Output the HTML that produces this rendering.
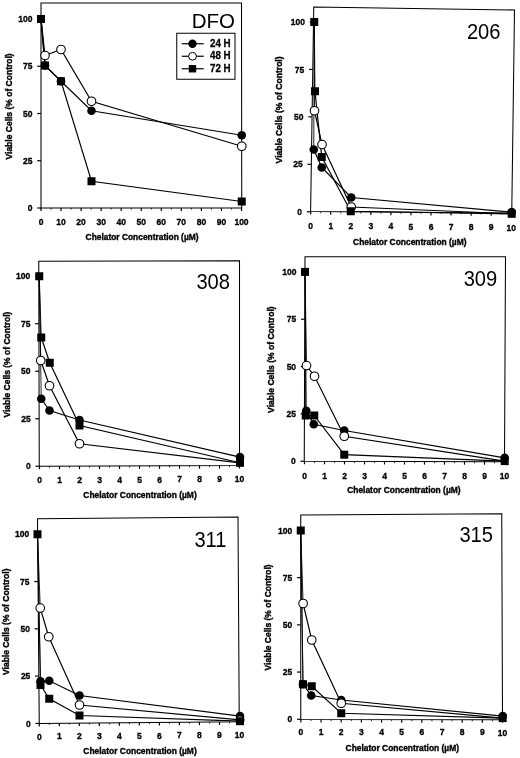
<!DOCTYPE html>
<html><head><meta charset="utf-8"><title>Chelator viability charts</title>
<style>
html,body{margin:0;padding:0;background:#fff;}
body{width:520px;height:758px;overflow:hidden;font-family:"Liberation Sans",sans-serif;}
svg{display:block;filter:blur(0.3px);}
text{font-family:"Liberation Sans",sans-serif;fill:#000;}
.tk{font-size:9.9px;font-weight:bold;stroke:#000;stroke-width:0.35px;}
.al{font-size:9.8px;font-weight:bold;stroke:#000;stroke-width:0.4px;}
.lg{font-size:10.2px;font-weight:bold;stroke:#111;stroke-width:0.3px;}
.tt{font-weight:normal;}
</style></head><body>
<svg width="520" height="758" viewBox="0 0 520 758">
<rect width="520" height="758" fill="#fff"/>
<polygon points="41,3 241.5,3 241.75,208 41,208" fill="none" stroke="#000" stroke-width="1.05"/>
<line x1="37.20" y1="208.00" x2="41.00" y2="208.00" stroke="#000" stroke-width="1.18"/>
<text transform="translate(32.50,211.10) scale(0.86,1)" text-anchor="end" class="tk">0</text>
<line x1="37.20" y1="160.75" x2="41.00" y2="160.75" stroke="#000" stroke-width="1.18"/>
<text transform="translate(32.50,163.85) scale(0.86,1)" text-anchor="end" class="tk">25</text>
<line x1="37.20" y1="113.50" x2="41.00" y2="113.50" stroke="#000" stroke-width="1.18"/>
<text transform="translate(32.50,116.60) scale(0.86,1)" text-anchor="end" class="tk">50</text>
<line x1="37.20" y1="66.25" x2="41.00" y2="66.25" stroke="#000" stroke-width="1.18"/>
<text transform="translate(32.50,69.35) scale(0.86,1)" text-anchor="end" class="tk">75</text>
<line x1="37.20" y1="19.00" x2="41.00" y2="19.00" stroke="#000" stroke-width="1.18"/>
<text transform="translate(32.50,22.10) scale(0.86,1)" text-anchor="end" class="tk">100</text>
<line x1="41.00" y1="208.00" x2="41.00" y2="211.00" stroke="#000" stroke-width="1.18"/>
<text transform="translate(41.00,225.10) scale(0.86,1)" text-anchor="middle" class="tk">0</text>
<line x1="51.02" y1="208.00" x2="51.02" y2="209.60" stroke="#000" stroke-width="0.8"/>
<line x1="61.05" y1="208.00" x2="61.05" y2="211.00" stroke="#000" stroke-width="1.18"/>
<text transform="translate(61.05,225.07) scale(0.86,1)" text-anchor="middle" class="tk">10</text>
<line x1="71.08" y1="208.00" x2="71.08" y2="209.60" stroke="#000" stroke-width="0.8"/>
<line x1="81.10" y1="208.00" x2="81.10" y2="211.00" stroke="#000" stroke-width="1.18"/>
<text transform="translate(81.10,225.04) scale(0.86,1)" text-anchor="middle" class="tk">20</text>
<line x1="91.12" y1="208.00" x2="91.12" y2="209.60" stroke="#000" stroke-width="0.8"/>
<line x1="101.15" y1="208.00" x2="101.15" y2="211.00" stroke="#000" stroke-width="1.18"/>
<text transform="translate(101.15,225.01) scale(0.86,1)" text-anchor="middle" class="tk">30</text>
<line x1="111.17" y1="208.00" x2="111.17" y2="209.60" stroke="#000" stroke-width="0.8"/>
<line x1="121.20" y1="208.00" x2="121.20" y2="211.00" stroke="#000" stroke-width="1.18"/>
<text transform="translate(121.20,224.98) scale(0.86,1)" text-anchor="middle" class="tk">40</text>
<line x1="131.23" y1="208.00" x2="131.23" y2="209.60" stroke="#000" stroke-width="0.8"/>
<line x1="141.25" y1="208.00" x2="141.25" y2="211.00" stroke="#000" stroke-width="1.18"/>
<text transform="translate(141.25,224.95) scale(0.86,1)" text-anchor="middle" class="tk">50</text>
<line x1="151.28" y1="208.00" x2="151.28" y2="209.60" stroke="#000" stroke-width="0.8"/>
<line x1="161.30" y1="208.00" x2="161.30" y2="211.00" stroke="#000" stroke-width="1.18"/>
<text transform="translate(161.30,224.92) scale(0.86,1)" text-anchor="middle" class="tk">60</text>
<line x1="171.33" y1="208.00" x2="171.33" y2="209.60" stroke="#000" stroke-width="0.8"/>
<line x1="181.35" y1="208.00" x2="181.35" y2="211.00" stroke="#000" stroke-width="1.18"/>
<text transform="translate(181.35,224.89) scale(0.86,1)" text-anchor="middle" class="tk">70</text>
<line x1="191.38" y1="208.00" x2="191.38" y2="209.60" stroke="#000" stroke-width="0.8"/>
<line x1="201.40" y1="208.00" x2="201.40" y2="211.00" stroke="#000" stroke-width="1.18"/>
<text transform="translate(201.40,224.86) scale(0.86,1)" text-anchor="middle" class="tk">80</text>
<line x1="211.42" y1="208.00" x2="211.42" y2="209.60" stroke="#000" stroke-width="0.8"/>
<line x1="221.45" y1="208.00" x2="221.45" y2="211.00" stroke="#000" stroke-width="1.18"/>
<text transform="translate(221.45,224.83) scale(0.86,1)" text-anchor="middle" class="tk">90</text>
<line x1="231.47" y1="208.00" x2="231.47" y2="209.60" stroke="#000" stroke-width="0.8"/>
<line x1="241.50" y1="208.00" x2="241.50" y2="211.00" stroke="#000" stroke-width="1.18"/>
<text transform="translate(241.50,224.80) scale(0.86,1)" text-anchor="middle" class="tk">100</text>
<polyline points="41,19 45,65.5 61,81.25 91.5,110.75 241.75,135.25" fill="none" stroke="#000" stroke-width="1.18"/>
<polyline points="41,19 45,55.5 61,49.5 91.5,101.25 241.75,146.25" fill="none" stroke="#000" stroke-width="1.18"/>
<polyline points="41,19 45,65.5 61,81.25 91.5,181.25 241.75,201.5" fill="none" stroke="#000" stroke-width="1.18"/>
<circle cx="45" cy="65.5" r="4.3" fill="#000"/>
<circle cx="61" cy="81.25" r="4.3" fill="#000"/>
<circle cx="91.5" cy="110.75" r="4.3" fill="#000"/>
<circle cx="241.75" cy="135.25" r="4.3" fill="#000"/>
<circle cx="45" cy="55.5" r="4.3" fill="#fff" stroke="#000" stroke-width="1.1"/>
<circle cx="61" cy="49.5" r="4.3" fill="#fff" stroke="#000" stroke-width="1.1"/>
<circle cx="91.5" cy="101.25" r="4.3" fill="#fff" stroke="#000" stroke-width="1.1"/>
<circle cx="241.75" cy="146.25" r="4.3" fill="#fff" stroke="#000" stroke-width="1.1"/>
<rect x="37.0" y="15.0" width="8.0" height="8.0" fill="#000"/>
<rect x="41.0" y="61.5" width="8.0" height="8.0" fill="#000"/>
<rect x="57.0" y="77.25" width="8.0" height="8.0" fill="#000"/>
<rect x="87.5" y="177.25" width="8.0" height="8.0" fill="#000"/>
<rect x="237.75" y="197.5" width="8.0" height="8.0" fill="#000"/>
<text x="191.7" y="27.7" class="tt" font-size="19.5" textLength="43.3" lengthAdjust="spacingAndGlyphs">DFO</text>
<text x="85.60" y="239.8" class="al" textLength="112.9" lengthAdjust="spacingAndGlyphs">Chelator Concentration (µM)</text>
<text transform="translate(11.60,159.50) rotate(-90)" class="al" textLength="106.2" lengthAdjust="spacingAndGlyphs">Viable Cells (% of Control)</text>
<polygon points="313.75,7 514.5,10 511.75,213 310.6,211.6" fill="none" stroke="#000" stroke-width="1.05"/>
<line x1="306.80" y1="211.75" x2="310.60" y2="211.75" stroke="#000" stroke-width="1.18"/>
<text transform="translate(302.10,214.85) scale(0.86,1)" text-anchor="end" class="tk">0</text>
<line x1="307.53" y1="164.31" x2="311.33" y2="164.31" stroke="#000" stroke-width="1.18"/>
<text transform="translate(302.83,167.41) scale(0.86,1)" text-anchor="end" class="tk">25</text>
<line x1="308.26" y1="116.88" x2="312.06" y2="116.88" stroke="#000" stroke-width="1.18"/>
<text transform="translate(303.56,119.97) scale(0.86,1)" text-anchor="end" class="tk">50</text>
<line x1="308.99" y1="69.44" x2="312.79" y2="69.44" stroke="#000" stroke-width="1.18"/>
<text transform="translate(304.29,72.54) scale(0.86,1)" text-anchor="end" class="tk">75</text>
<line x1="309.72" y1="22.00" x2="313.52" y2="22.00" stroke="#000" stroke-width="1.18"/>
<text transform="translate(305.02,25.10) scale(0.86,1)" text-anchor="end" class="tk">100</text>
<line x1="310.70" y1="211.60" x2="310.70" y2="214.60" stroke="#000" stroke-width="1.18"/>
<text transform="translate(310.70,228.60) scale(0.86,1)" text-anchor="middle" class="tk">0</text>
<line x1="320.73" y1="211.67" x2="320.73" y2="213.27" stroke="#000" stroke-width="0.8"/>
<line x1="330.75" y1="211.74" x2="330.75" y2="214.74" stroke="#000" stroke-width="1.18"/>
<text transform="translate(330.75,228.79) scale(0.86,1)" text-anchor="middle" class="tk">1</text>
<line x1="340.78" y1="211.81" x2="340.78" y2="213.41" stroke="#000" stroke-width="0.8"/>
<line x1="350.81" y1="211.88" x2="350.81" y2="214.88" stroke="#000" stroke-width="1.18"/>
<text transform="translate(350.81,228.98) scale(0.86,1)" text-anchor="middle" class="tk">2</text>
<line x1="360.84" y1="211.95" x2="360.84" y2="213.55" stroke="#000" stroke-width="0.8"/>
<line x1="370.87" y1="212.02" x2="370.87" y2="215.02" stroke="#000" stroke-width="1.18"/>
<text transform="translate(370.87,229.17) scale(0.86,1)" text-anchor="middle" class="tk">3</text>
<line x1="380.89" y1="212.09" x2="380.89" y2="213.69" stroke="#000" stroke-width="0.8"/>
<line x1="390.92" y1="212.16" x2="390.92" y2="215.16" stroke="#000" stroke-width="1.18"/>
<text transform="translate(390.92,229.36) scale(0.86,1)" text-anchor="middle" class="tk">4</text>
<line x1="400.95" y1="212.23" x2="400.95" y2="213.83" stroke="#000" stroke-width="0.8"/>
<line x1="410.98" y1="212.30" x2="410.98" y2="215.30" stroke="#000" stroke-width="1.18"/>
<text transform="translate(410.98,229.55) scale(0.86,1)" text-anchor="middle" class="tk">5</text>
<line x1="421.00" y1="212.37" x2="421.00" y2="213.97" stroke="#000" stroke-width="0.8"/>
<line x1="431.03" y1="212.44" x2="431.03" y2="215.44" stroke="#000" stroke-width="1.18"/>
<text transform="translate(431.03,229.74) scale(0.86,1)" text-anchor="middle" class="tk">6</text>
<line x1="441.06" y1="212.51" x2="441.06" y2="214.11" stroke="#000" stroke-width="0.8"/>
<line x1="451.08" y1="212.58" x2="451.08" y2="215.58" stroke="#000" stroke-width="1.18"/>
<text transform="translate(451.08,229.93) scale(0.86,1)" text-anchor="middle" class="tk">7</text>
<line x1="461.11" y1="212.65" x2="461.11" y2="214.25" stroke="#000" stroke-width="0.8"/>
<line x1="471.14" y1="212.72" x2="471.14" y2="215.72" stroke="#000" stroke-width="1.18"/>
<text transform="translate(471.14,230.12) scale(0.86,1)" text-anchor="middle" class="tk">8</text>
<line x1="481.17" y1="212.79" x2="481.17" y2="214.39" stroke="#000" stroke-width="0.8"/>
<line x1="491.19" y1="212.86" x2="491.19" y2="215.86" stroke="#000" stroke-width="1.18"/>
<text transform="translate(491.19,230.31) scale(0.86,1)" text-anchor="middle" class="tk">9</text>
<line x1="501.22" y1="212.93" x2="501.22" y2="214.53" stroke="#000" stroke-width="0.8"/>
<line x1="511.25" y1="213.00" x2="511.25" y2="216.00" stroke="#000" stroke-width="1.18"/>
<text transform="translate(511.25,230.50) scale(0.86,1)" text-anchor="middle" class="tk">10</text>
<line x1="314.25" y1="22" x2="313.75" y2="149.5" stroke="#000" stroke-width="0.85"/>
<polyline points="313.75,149.5 321.75,167.5 351.25,197.5 511.7,212.1" fill="none" stroke="#000" stroke-width="1.18"/>
<line x1="314.25" y1="22" x2="314.5" y2="110.75" stroke="#000" stroke-width="0.85"/>
<polyline points="314.5,110.75 322,144.5 351.25,207 511.7,213.8" fill="none" stroke="#000" stroke-width="1.18"/>
<line x1="314.25" y1="22" x2="315" y2="91.25" stroke="#000" stroke-width="0.85"/>
<polyline points="315,91.25 321.75,157 350.75,211.25 511.7,213.8" fill="none" stroke="#000" stroke-width="1.18"/>
<circle cx="313.75" cy="149.5" r="4.3" fill="#000"/>
<circle cx="321.75" cy="167.5" r="4.3" fill="#000"/>
<circle cx="351.25" cy="197.5" r="4.3" fill="#000"/>
<circle cx="511.7" cy="212.1" r="4.3" fill="#000"/>
<circle cx="314.5" cy="110.75" r="4.3" fill="#fff" stroke="#000" stroke-width="1.1"/>
<circle cx="322" cy="144.5" r="4.3" fill="#fff" stroke="#000" stroke-width="1.1"/>
<circle cx="351.25" cy="207" r="4.3" fill="#fff" stroke="#000" stroke-width="1.1"/>
<rect x="310.25" y="18.0" width="8.0" height="8.0" fill="#000"/>
<rect x="311.0" y="87.25" width="8.0" height="8.0" fill="#000"/>
<rect x="317.75" y="153.0" width="8.0" height="8.0" fill="#000"/>
<rect x="346.75" y="207.25" width="8.0" height="8.0" fill="#000"/>
<rect x="507.7" y="209.8" width="8.0" height="8.0" fill="#000"/>
<text transform="translate(466.9,38.75) scale(0.93,1)" class="tt" font-size="21.7">206</text>
<text x="353.10" y="244.6" class="al" textLength="113.4" lengthAdjust="spacingAndGlyphs">Chelator Concentration (µM)</text>
<text transform="translate(281.60,163.40) rotate(-90)" class="al" textLength="107.0" lengthAdjust="spacingAndGlyphs">Viable Cells (% of Control)</text>
<polygon points="38.75,261.25 239.5,260.75 239.5,465.5 39.25,466.25" fill="none" stroke="#000" stroke-width="1.05"/>
<line x1="35.45" y1="466.25" x2="39.25" y2="466.25" stroke="#000" stroke-width="1.18"/>
<text transform="translate(30.75,469.35) scale(0.86,1)" text-anchor="end" class="tk">0</text>
<line x1="35.33" y1="418.75" x2="39.13" y2="418.75" stroke="#000" stroke-width="1.18"/>
<text transform="translate(30.63,421.85) scale(0.86,1)" text-anchor="end" class="tk">25</text>
<line x1="35.22" y1="371.25" x2="39.02" y2="371.25" stroke="#000" stroke-width="1.18"/>
<text transform="translate(30.52,374.35) scale(0.86,1)" text-anchor="end" class="tk">50</text>
<line x1="35.10" y1="323.75" x2="38.90" y2="323.75" stroke="#000" stroke-width="1.18"/>
<text transform="translate(30.40,326.85) scale(0.86,1)" text-anchor="end" class="tk">75</text>
<line x1="34.99" y1="276.25" x2="38.79" y2="276.25" stroke="#000" stroke-width="1.18"/>
<text transform="translate(30.29,279.35) scale(0.86,1)" text-anchor="end" class="tk">100</text>
<line x1="39.50" y1="466.25" x2="39.50" y2="469.25" stroke="#000" stroke-width="1.18"/>
<text transform="translate(39.50,483.00) scale(0.86,1)" text-anchor="middle" class="tk">0</text>
<line x1="49.50" y1="466.21" x2="49.50" y2="467.81" stroke="#000" stroke-width="0.8"/>
<line x1="59.50" y1="466.17" x2="59.50" y2="469.17" stroke="#000" stroke-width="1.18"/>
<text transform="translate(59.50,482.92) scale(0.86,1)" text-anchor="middle" class="tk">1</text>
<line x1="69.50" y1="466.14" x2="69.50" y2="467.74" stroke="#000" stroke-width="0.8"/>
<line x1="79.50" y1="466.10" x2="79.50" y2="469.10" stroke="#000" stroke-width="1.18"/>
<text transform="translate(79.50,482.84) scale(0.86,1)" text-anchor="middle" class="tk">2</text>
<line x1="89.50" y1="466.06" x2="89.50" y2="467.66" stroke="#000" stroke-width="0.8"/>
<line x1="99.50" y1="466.02" x2="99.50" y2="469.02" stroke="#000" stroke-width="1.18"/>
<text transform="translate(99.50,482.76) scale(0.86,1)" text-anchor="middle" class="tk">3</text>
<line x1="109.50" y1="465.99" x2="109.50" y2="467.59" stroke="#000" stroke-width="0.8"/>
<line x1="119.50" y1="465.95" x2="119.50" y2="468.95" stroke="#000" stroke-width="1.18"/>
<text transform="translate(119.50,482.68) scale(0.86,1)" text-anchor="middle" class="tk">4</text>
<line x1="129.50" y1="465.91" x2="129.50" y2="467.51" stroke="#000" stroke-width="0.8"/>
<line x1="139.50" y1="465.87" x2="139.50" y2="468.87" stroke="#000" stroke-width="1.18"/>
<text transform="translate(139.50,482.60) scale(0.86,1)" text-anchor="middle" class="tk">5</text>
<line x1="149.50" y1="465.84" x2="149.50" y2="467.44" stroke="#000" stroke-width="0.8"/>
<line x1="159.50" y1="465.80" x2="159.50" y2="468.80" stroke="#000" stroke-width="1.18"/>
<text transform="translate(159.50,482.52) scale(0.86,1)" text-anchor="middle" class="tk">6</text>
<line x1="169.50" y1="465.76" x2="169.50" y2="467.36" stroke="#000" stroke-width="0.8"/>
<line x1="179.50" y1="465.72" x2="179.50" y2="468.72" stroke="#000" stroke-width="1.18"/>
<text transform="translate(179.50,482.44) scale(0.86,1)" text-anchor="middle" class="tk">7</text>
<line x1="189.50" y1="465.69" x2="189.50" y2="467.29" stroke="#000" stroke-width="0.8"/>
<line x1="199.50" y1="465.65" x2="199.50" y2="468.65" stroke="#000" stroke-width="1.18"/>
<text transform="translate(199.50,482.36) scale(0.86,1)" text-anchor="middle" class="tk">8</text>
<line x1="209.50" y1="465.61" x2="209.50" y2="467.21" stroke="#000" stroke-width="0.8"/>
<line x1="219.50" y1="465.57" x2="219.50" y2="468.57" stroke="#000" stroke-width="1.18"/>
<text transform="translate(219.50,482.28) scale(0.86,1)" text-anchor="middle" class="tk">9</text>
<line x1="229.50" y1="465.54" x2="229.50" y2="467.14" stroke="#000" stroke-width="0.8"/>
<line x1="239.50" y1="465.50" x2="239.50" y2="468.50" stroke="#000" stroke-width="1.18"/>
<text transform="translate(239.50,482.20) scale(0.86,1)" text-anchor="middle" class="tk">10</text>
<line x1="39.25" y1="276.25" x2="41.25" y2="398.75" stroke="#000" stroke-width="0.85"/>
<polyline points="41.25,398.75 49.5,410.5 79.5,420 240,457.1" fill="none" stroke="#000" stroke-width="1.18"/>
<line x1="39.25" y1="276.25" x2="40.75" y2="360.5" stroke="#000" stroke-width="0.85"/>
<polyline points="40.75,360.5 49.5,385.75 79.5,443.75 240,462.8" fill="none" stroke="#000" stroke-width="1.18"/>
<line x1="39.25" y1="276.25" x2="41.25" y2="337.5" stroke="#000" stroke-width="0.85"/>
<polyline points="41.25,337.5 49.75,362.75 79.5,425.5 240,462.8" fill="none" stroke="#000" stroke-width="1.18"/>
<circle cx="41.25" cy="398.75" r="4.3" fill="#000"/>
<circle cx="49.5" cy="410.5" r="4.3" fill="#000"/>
<circle cx="79.5" cy="420" r="4.3" fill="#000"/>
<circle cx="240" cy="457.1" r="4.3" fill="#000"/>
<circle cx="40.75" cy="360.5" r="4.3" fill="#fff" stroke="#000" stroke-width="1.1"/>
<circle cx="49.5" cy="385.75" r="4.3" fill="#fff" stroke="#000" stroke-width="1.1"/>
<circle cx="79.5" cy="443.75" r="4.3" fill="#fff" stroke="#000" stroke-width="1.1"/>
<rect x="35.25" y="272.25" width="8.0" height="8.0" fill="#000"/>
<rect x="37.25" y="333.5" width="8.0" height="8.0" fill="#000"/>
<rect x="45.75" y="358.75" width="8.0" height="8.0" fill="#000"/>
<rect x="75.5" y="421.5" width="8.0" height="8.0" fill="#000"/>
<rect x="236.0" y="458.8" width="8.0" height="8.0" fill="#000"/>
<text transform="translate(196.4,289.25) scale(0.93,1)" class="tt" font-size="21.7">308</text>
<text x="83.30" y="497.5" class="al" textLength="113.4" lengthAdjust="spacingAndGlyphs">Chelator Concentration (µM)</text>
<text transform="translate(9.60,417.60) rotate(-90)" class="al" textLength="106.0" lengthAdjust="spacingAndGlyphs">Viable Cells (% of Control)</text>
<polygon points="305,256.75 505.5,256.75 504.5,461.75 304.25,461.25" fill="none" stroke="#000" stroke-width="1.05"/>
<line x1="300.45" y1="461.25" x2="304.25" y2="461.25" stroke="#000" stroke-width="1.18"/>
<text transform="translate(295.75,464.35) scale(0.86,1)" text-anchor="end" class="tk">0</text>
<line x1="300.62" y1="413.91" x2="304.42" y2="413.91" stroke="#000" stroke-width="1.18"/>
<text transform="translate(295.92,417.01) scale(0.86,1)" text-anchor="end" class="tk">25</text>
<line x1="300.80" y1="366.57" x2="304.60" y2="366.57" stroke="#000" stroke-width="1.18"/>
<text transform="translate(296.10,369.68) scale(0.86,1)" text-anchor="end" class="tk">50</text>
<line x1="300.97" y1="319.24" x2="304.77" y2="319.24" stroke="#000" stroke-width="1.18"/>
<text transform="translate(296.27,322.34) scale(0.86,1)" text-anchor="end" class="tk">75</text>
<line x1="301.14" y1="271.90" x2="304.94" y2="271.90" stroke="#000" stroke-width="1.18"/>
<text transform="translate(296.44,275.00) scale(0.86,1)" text-anchor="end" class="tk">100</text>
<line x1="304.50" y1="461.25" x2="304.50" y2="464.25" stroke="#000" stroke-width="1.18"/>
<text transform="translate(304.50,478.50) scale(0.86,1)" text-anchor="middle" class="tk">0</text>
<line x1="314.50" y1="461.28" x2="314.50" y2="462.88" stroke="#000" stroke-width="0.8"/>
<line x1="324.50" y1="461.30" x2="324.50" y2="464.30" stroke="#000" stroke-width="1.18"/>
<text transform="translate(324.50,478.52) scale(0.86,1)" text-anchor="middle" class="tk">1</text>
<line x1="334.50" y1="461.33" x2="334.50" y2="462.93" stroke="#000" stroke-width="0.8"/>
<line x1="344.50" y1="461.35" x2="344.50" y2="464.35" stroke="#000" stroke-width="1.18"/>
<text transform="translate(344.50,478.55) scale(0.86,1)" text-anchor="middle" class="tk">2</text>
<line x1="354.50" y1="461.38" x2="354.50" y2="462.98" stroke="#000" stroke-width="0.8"/>
<line x1="364.50" y1="461.40" x2="364.50" y2="464.40" stroke="#000" stroke-width="1.18"/>
<text transform="translate(364.50,478.57) scale(0.86,1)" text-anchor="middle" class="tk">3</text>
<line x1="374.50" y1="461.43" x2="374.50" y2="463.03" stroke="#000" stroke-width="0.8"/>
<line x1="384.50" y1="461.45" x2="384.50" y2="464.45" stroke="#000" stroke-width="1.18"/>
<text transform="translate(384.50,478.60) scale(0.86,1)" text-anchor="middle" class="tk">4</text>
<line x1="394.50" y1="461.48" x2="394.50" y2="463.08" stroke="#000" stroke-width="0.8"/>
<line x1="404.50" y1="461.50" x2="404.50" y2="464.50" stroke="#000" stroke-width="1.18"/>
<text transform="translate(404.50,478.62) scale(0.86,1)" text-anchor="middle" class="tk">5</text>
<line x1="414.50" y1="461.53" x2="414.50" y2="463.13" stroke="#000" stroke-width="0.8"/>
<line x1="424.50" y1="461.55" x2="424.50" y2="464.55" stroke="#000" stroke-width="1.18"/>
<text transform="translate(424.50,478.65) scale(0.86,1)" text-anchor="middle" class="tk">6</text>
<line x1="434.50" y1="461.58" x2="434.50" y2="463.18" stroke="#000" stroke-width="0.8"/>
<line x1="444.50" y1="461.60" x2="444.50" y2="464.60" stroke="#000" stroke-width="1.18"/>
<text transform="translate(444.50,478.68) scale(0.86,1)" text-anchor="middle" class="tk">7</text>
<line x1="454.50" y1="461.63" x2="454.50" y2="463.23" stroke="#000" stroke-width="0.8"/>
<line x1="464.50" y1="461.65" x2="464.50" y2="464.65" stroke="#000" stroke-width="1.18"/>
<text transform="translate(464.50,478.70) scale(0.86,1)" text-anchor="middle" class="tk">8</text>
<line x1="474.50" y1="461.68" x2="474.50" y2="463.28" stroke="#000" stroke-width="0.8"/>
<line x1="484.50" y1="461.70" x2="484.50" y2="464.70" stroke="#000" stroke-width="1.18"/>
<text transform="translate(484.50,478.73) scale(0.86,1)" text-anchor="middle" class="tk">9</text>
<line x1="494.50" y1="461.73" x2="494.50" y2="463.33" stroke="#000" stroke-width="0.8"/>
<line x1="504.50" y1="461.75" x2="504.50" y2="464.75" stroke="#000" stroke-width="1.18"/>
<text transform="translate(504.50,478.75) scale(0.86,1)" text-anchor="middle" class="tk">10</text>
<line x1="305" y1="271.9" x2="306.25" y2="410.75" stroke="#000" stroke-width="0.85"/>
<polyline points="306.25,410.75 313.75,424.25 344.25,430.5 504.7,457.8" fill="none" stroke="#000" stroke-width="1.18"/>
<line x1="305" y1="271.9" x2="306.5" y2="365.6" stroke="#000" stroke-width="0.85"/>
<polyline points="306.5,365.6 314.5,376.25 344.25,436.25 504.7,461.1" fill="none" stroke="#000" stroke-width="1.18"/>
<line x1="305" y1="271.9" x2="305.75" y2="415.5" stroke="#000" stroke-width="0.85"/>
<polyline points="305.75,415.5 314.25,415.5 344.25,454.7 504.7,461.1" fill="none" stroke="#000" stroke-width="1.18"/>
<circle cx="306.25" cy="410.75" r="4.3" fill="#000"/>
<circle cx="313.75" cy="424.25" r="4.3" fill="#000"/>
<circle cx="344.25" cy="430.5" r="4.3" fill="#000"/>
<circle cx="504.7" cy="457.8" r="4.3" fill="#000"/>
<circle cx="306.5" cy="365.6" r="4.3" fill="#fff" stroke="#000" stroke-width="1.1"/>
<circle cx="314.5" cy="376.25" r="4.3" fill="#fff" stroke="#000" stroke-width="1.1"/>
<circle cx="344.25" cy="436.25" r="4.3" fill="#fff" stroke="#000" stroke-width="1.1"/>
<rect x="301.0" y="267.9" width="8.0" height="8.0" fill="#000"/>
<rect x="301.75" y="411.5" width="8.0" height="8.0" fill="#000"/>
<rect x="310.25" y="411.5" width="8.0" height="8.0" fill="#000"/>
<rect x="340.25" y="450.7" width="8.0" height="8.0" fill="#000"/>
<rect x="500.7" y="457.1" width="8.0" height="8.0" fill="#000"/>
<text transform="translate(463.65,285.75) scale(0.93,1)" class="tt" font-size="21.7">309</text>
<text x="347.20" y="493.4" class="al" textLength="113.4" lengthAdjust="spacingAndGlyphs">Chelator Concentration (µM)</text>
<text transform="translate(273.80,412.90) rotate(-90)" class="al" textLength="106.5" lengthAdjust="spacingAndGlyphs">Viable Cells (% of Control)</text>
<polygon points="37.5,518.75 238,517 239.25,721.75 39.25,723.4" fill="none" stroke="#000" stroke-width="1.05"/>
<line x1="35.45" y1="723.40" x2="39.25" y2="723.40" stroke="#000" stroke-width="1.18"/>
<text transform="translate(30.75,726.50) scale(0.86,1)" text-anchor="end" class="tk">0</text>
<line x1="35.05" y1="676.11" x2="38.85" y2="676.11" stroke="#000" stroke-width="1.18"/>
<text transform="translate(30.35,679.21) scale(0.86,1)" text-anchor="end" class="tk">25</text>
<line x1="34.64" y1="628.83" x2="38.44" y2="628.83" stroke="#000" stroke-width="1.18"/>
<text transform="translate(29.94,631.93) scale(0.86,1)" text-anchor="end" class="tk">50</text>
<line x1="34.24" y1="581.54" x2="38.04" y2="581.54" stroke="#000" stroke-width="1.18"/>
<text transform="translate(29.54,584.64) scale(0.86,1)" text-anchor="end" class="tk">75</text>
<line x1="33.83" y1="534.25" x2="37.63" y2="534.25" stroke="#000" stroke-width="1.18"/>
<text transform="translate(29.13,537.35) scale(0.86,1)" text-anchor="end" class="tk">100</text>
<line x1="39.25" y1="723.40" x2="39.25" y2="726.40" stroke="#000" stroke-width="1.18"/>
<text transform="translate(39.25,739.50) scale(0.86,1)" text-anchor="middle" class="tk">0</text>
<line x1="49.26" y1="723.32" x2="49.26" y2="724.92" stroke="#000" stroke-width="0.8"/>
<line x1="59.28" y1="723.23" x2="59.28" y2="726.23" stroke="#000" stroke-width="1.18"/>
<text transform="translate(59.28,739.34) scale(0.86,1)" text-anchor="middle" class="tk">1</text>
<line x1="69.29" y1="723.15" x2="69.29" y2="724.75" stroke="#000" stroke-width="0.8"/>
<line x1="79.30" y1="723.07" x2="79.30" y2="726.07" stroke="#000" stroke-width="1.18"/>
<text transform="translate(79.30,739.18) scale(0.86,1)" text-anchor="middle" class="tk">2</text>
<line x1="89.31" y1="722.99" x2="89.31" y2="724.59" stroke="#000" stroke-width="0.8"/>
<line x1="99.32" y1="722.90" x2="99.32" y2="725.90" stroke="#000" stroke-width="1.18"/>
<text transform="translate(99.32,739.02) scale(0.86,1)" text-anchor="middle" class="tk">3</text>
<line x1="109.34" y1="722.82" x2="109.34" y2="724.42" stroke="#000" stroke-width="0.8"/>
<line x1="119.35" y1="722.74" x2="119.35" y2="725.74" stroke="#000" stroke-width="1.18"/>
<text transform="translate(119.35,738.86) scale(0.86,1)" text-anchor="middle" class="tk">4</text>
<line x1="129.36" y1="722.66" x2="129.36" y2="724.26" stroke="#000" stroke-width="0.8"/>
<line x1="139.38" y1="722.57" x2="139.38" y2="725.57" stroke="#000" stroke-width="1.18"/>
<text transform="translate(139.38,738.70) scale(0.86,1)" text-anchor="middle" class="tk">5</text>
<line x1="149.39" y1="722.49" x2="149.39" y2="724.09" stroke="#000" stroke-width="0.8"/>
<line x1="159.40" y1="722.41" x2="159.40" y2="725.41" stroke="#000" stroke-width="1.18"/>
<text transform="translate(159.40,738.54) scale(0.86,1)" text-anchor="middle" class="tk">6</text>
<line x1="169.41" y1="722.33" x2="169.41" y2="723.93" stroke="#000" stroke-width="0.8"/>
<line x1="179.42" y1="722.24" x2="179.42" y2="725.24" stroke="#000" stroke-width="1.18"/>
<text transform="translate(179.42,738.38) scale(0.86,1)" text-anchor="middle" class="tk">7</text>
<line x1="189.44" y1="722.16" x2="189.44" y2="723.76" stroke="#000" stroke-width="0.8"/>
<line x1="199.45" y1="722.08" x2="199.45" y2="725.08" stroke="#000" stroke-width="1.18"/>
<text transform="translate(199.45,738.22) scale(0.86,1)" text-anchor="middle" class="tk">8</text>
<line x1="209.46" y1="722.00" x2="209.46" y2="723.60" stroke="#000" stroke-width="0.8"/>
<line x1="219.47" y1="721.91" x2="219.47" y2="724.91" stroke="#000" stroke-width="1.18"/>
<text transform="translate(219.47,738.06) scale(0.86,1)" text-anchor="middle" class="tk">9</text>
<line x1="229.49" y1="721.83" x2="229.49" y2="723.43" stroke="#000" stroke-width="0.8"/>
<line x1="239.50" y1="721.75" x2="239.50" y2="724.75" stroke="#000" stroke-width="1.18"/>
<text transform="translate(239.50,737.90) scale(0.86,1)" text-anchor="middle" class="tk">10</text>
<line x1="37.5" y1="534.25" x2="40.5" y2="681.25" stroke="#000" stroke-width="0.85"/>
<polyline points="40.5,681.25 49.25,680.75 79.5,695.5 240,716.1" fill="none" stroke="#000" stroke-width="1.18"/>
<line x1="37.5" y1="534.25" x2="40.25" y2="608.1" stroke="#000" stroke-width="0.85"/>
<polyline points="40.25,608.1 48.75,636.75 79.5,705 240,719.9" fill="none" stroke="#000" stroke-width="1.18"/>
<line x1="37.5" y1="534.25" x2="40.5" y2="685" stroke="#000" stroke-width="0.85"/>
<polyline points="40.5,685 49.25,698.75 79.5,715.5 240,721.2" fill="none" stroke="#000" stroke-width="1.18"/>
<circle cx="40.5" cy="681.25" r="4.3" fill="#000"/>
<circle cx="49.25" cy="680.75" r="4.3" fill="#000"/>
<circle cx="79.5" cy="695.5" r="4.3" fill="#000"/>
<circle cx="240" cy="716.1" r="4.3" fill="#000"/>
<circle cx="40.25" cy="608.1" r="4.3" fill="#fff" stroke="#000" stroke-width="1.1"/>
<circle cx="48.75" cy="636.75" r="4.3" fill="#fff" stroke="#000" stroke-width="1.1"/>
<circle cx="79.5" cy="705" r="4.3" fill="#fff" stroke="#000" stroke-width="1.1"/>
<circle cx="240" cy="719.9" r="4.0" fill="#fff" stroke="#000" stroke-width="1.1"/>
<rect x="33.5" y="530.25" width="8.0" height="8.0" fill="#000"/>
<rect x="36.5" y="681.0" width="8.0" height="8.0" fill="#000"/>
<rect x="45.25" y="694.75" width="8.0" height="8.0" fill="#000"/>
<rect x="75.5" y="711.5" width="8.0" height="8.0" fill="#000"/>
<rect x="236.0" y="717.2" width="8.0" height="8.0" fill="#000"/>
<text transform="translate(194.4,546.75) scale(0.93,1)" class="tt" font-size="21.7">311</text>
<text x="83.30" y="753.8" class="al" textLength="113.4" lengthAdjust="spacingAndGlyphs">Chelator Concentration (µM)</text>
<text transform="translate(8.60,675.00) rotate(-90)" class="al" textLength="106.5" lengthAdjust="spacingAndGlyphs">Viable Cells (% of Control)</text>
<polygon points="300.75,515 501.75,513.75 502.5,719.75 300.75,719.5" fill="none" stroke="#000" stroke-width="1.05"/>
<line x1="296.95" y1="719.25" x2="300.75" y2="719.25" stroke="#000" stroke-width="1.18"/>
<text transform="translate(292.25,722.35) scale(0.86,1)" text-anchor="end" class="tk">0</text>
<line x1="296.95" y1="672.06" x2="300.75" y2="672.06" stroke="#000" stroke-width="1.18"/>
<text transform="translate(292.25,675.16) scale(0.86,1)" text-anchor="end" class="tk">25</text>
<line x1="296.95" y1="624.88" x2="300.75" y2="624.88" stroke="#000" stroke-width="1.18"/>
<text transform="translate(292.25,627.98) scale(0.86,1)" text-anchor="end" class="tk">50</text>
<line x1="296.95" y1="577.69" x2="300.75" y2="577.69" stroke="#000" stroke-width="1.18"/>
<text transform="translate(292.25,580.79) scale(0.86,1)" text-anchor="end" class="tk">75</text>
<line x1="296.95" y1="530.50" x2="300.75" y2="530.50" stroke="#000" stroke-width="1.18"/>
<text transform="translate(292.25,533.60) scale(0.86,1)" text-anchor="end" class="tk">100</text>
<line x1="300.90" y1="719.50" x2="300.90" y2="722.50" stroke="#000" stroke-width="1.18"/>
<text transform="translate(300.90,735.40) scale(0.86,1)" text-anchor="middle" class="tk">0</text>
<line x1="310.98" y1="719.51" x2="310.98" y2="721.11" stroke="#000" stroke-width="0.8"/>
<line x1="321.06" y1="719.53" x2="321.06" y2="722.53" stroke="#000" stroke-width="1.18"/>
<text transform="translate(321.06,735.41) scale(0.86,1)" text-anchor="middle" class="tk">1</text>
<line x1="331.14" y1="719.54" x2="331.14" y2="721.14" stroke="#000" stroke-width="0.8"/>
<line x1="341.22" y1="719.55" x2="341.22" y2="722.55" stroke="#000" stroke-width="1.18"/>
<text transform="translate(341.22,735.42) scale(0.86,1)" text-anchor="middle" class="tk">2</text>
<line x1="351.30" y1="719.56" x2="351.30" y2="721.16" stroke="#000" stroke-width="0.8"/>
<line x1="361.38" y1="719.58" x2="361.38" y2="722.58" stroke="#000" stroke-width="1.18"/>
<text transform="translate(361.38,735.43) scale(0.86,1)" text-anchor="middle" class="tk">3</text>
<line x1="371.46" y1="719.59" x2="371.46" y2="721.19" stroke="#000" stroke-width="0.8"/>
<line x1="381.54" y1="719.60" x2="381.54" y2="722.60" stroke="#000" stroke-width="1.18"/>
<text transform="translate(381.54,735.44) scale(0.86,1)" text-anchor="middle" class="tk">4</text>
<line x1="391.62" y1="719.61" x2="391.62" y2="721.21" stroke="#000" stroke-width="0.8"/>
<line x1="401.70" y1="719.63" x2="401.70" y2="722.63" stroke="#000" stroke-width="1.18"/>
<text transform="translate(401.70,735.45) scale(0.86,1)" text-anchor="middle" class="tk">5</text>
<line x1="411.78" y1="719.64" x2="411.78" y2="721.24" stroke="#000" stroke-width="0.8"/>
<line x1="421.86" y1="719.65" x2="421.86" y2="722.65" stroke="#000" stroke-width="1.18"/>
<text transform="translate(421.86,735.46) scale(0.86,1)" text-anchor="middle" class="tk">6</text>
<line x1="431.94" y1="719.66" x2="431.94" y2="721.26" stroke="#000" stroke-width="0.8"/>
<line x1="442.02" y1="719.68" x2="442.02" y2="722.68" stroke="#000" stroke-width="1.18"/>
<text transform="translate(442.02,735.47) scale(0.86,1)" text-anchor="middle" class="tk">7</text>
<line x1="452.10" y1="719.69" x2="452.10" y2="721.29" stroke="#000" stroke-width="0.8"/>
<line x1="462.18" y1="719.70" x2="462.18" y2="722.70" stroke="#000" stroke-width="1.18"/>
<text transform="translate(462.18,735.48) scale(0.86,1)" text-anchor="middle" class="tk">8</text>
<line x1="472.26" y1="719.71" x2="472.26" y2="721.31" stroke="#000" stroke-width="0.8"/>
<line x1="482.34" y1="719.73" x2="482.34" y2="722.73" stroke="#000" stroke-width="1.18"/>
<text transform="translate(482.34,735.49) scale(0.86,1)" text-anchor="middle" class="tk">9</text>
<line x1="492.42" y1="719.74" x2="492.42" y2="721.34" stroke="#000" stroke-width="0.8"/>
<line x1="502.50" y1="719.75" x2="502.50" y2="722.75" stroke="#000" stroke-width="1.18"/>
<text transform="translate(502.50,735.50) scale(0.86,1)" text-anchor="middle" class="tk">10</text>
<line x1="300.75" y1="530.5" x2="303" y2="684.25" stroke="#000" stroke-width="0.85"/>
<polyline points="303,684.25 311.25,695.5 341.25,700 502.7,716.1" fill="none" stroke="#000" stroke-width="1.18"/>
<line x1="300.75" y1="530.5" x2="303.1" y2="603.5" stroke="#000" stroke-width="0.85"/>
<polyline points="303.1,603.5 311.75,640 341.25,703.25 502.7,718.1" fill="none" stroke="#000" stroke-width="1.18"/>
<line x1="300.75" y1="530.5" x2="303" y2="684.25" stroke="#000" stroke-width="0.85"/>
<polyline points="303,684.25 311.75,686.25 341.25,713.25 502.7,718.1" fill="none" stroke="#000" stroke-width="1.18"/>
<circle cx="303" cy="684.25" r="4.3" fill="#000"/>
<circle cx="311.25" cy="695.5" r="4.3" fill="#000"/>
<circle cx="341.25" cy="700" r="4.3" fill="#000"/>
<circle cx="502.7" cy="716.1" r="4.3" fill="#000"/>
<circle cx="303.1" cy="603.5" r="4.3" fill="#fff" stroke="#000" stroke-width="1.1"/>
<circle cx="311.75" cy="640" r="4.3" fill="#fff" stroke="#000" stroke-width="1.1"/>
<circle cx="341.25" cy="703.25" r="4.3" fill="#fff" stroke="#000" stroke-width="1.1"/>
<rect x="296.75" y="526.5" width="8.0" height="8.0" fill="#000"/>
<rect x="299.0" y="680.25" width="8.0" height="8.0" fill="#000"/>
<rect x="307.75" y="682.25" width="8.0" height="8.0" fill="#000"/>
<rect x="337.25" y="709.25" width="8.0" height="8.0" fill="#000"/>
<rect x="498.7" y="714.1" width="8.0" height="8.0" fill="#000"/>
<text transform="translate(459.4,541.75) scale(0.93,1)" class="tt" font-size="21.7">315</text>
<text x="345.60" y="750.6" class="al" textLength="113.4" lengthAdjust="spacingAndGlyphs">Chelator Concentration (µM)</text>
<text transform="translate(270.70,670.40) rotate(-90)" class="al" textLength="106.1" lengthAdjust="spacingAndGlyphs">Viable Cells (% of Control)</text>
<rect x="176.75" y="33.25" width="58.25" height="46" fill="#fff" stroke="#000" stroke-width="1"/>
<line x1="181.75" y1="43.75" x2="203.75" y2="43.75" stroke="#000" stroke-width="1.18"/>
<circle cx="192.5" cy="43.75" r="4.2" fill="#000"/>
<text x="210" y="46.85" class="lg" textLength="20.7" lengthAdjust="spacingAndGlyphs">24 H</text>
<line x1="181.75" y1="56.25" x2="203.75" y2="56.25" stroke="#000" stroke-width="1.18"/>
<circle cx="192.5" cy="56.25" r="3.9" fill="#fff" stroke="#000" stroke-width="1"/>
<text x="210" y="59.35" class="lg" textLength="20.7" lengthAdjust="spacingAndGlyphs">48 H</text>
<line x1="181.75" y1="68.75" x2="203.75" y2="68.75" stroke="#000" stroke-width="1.18"/>
<rect x="188.8" y="65.05" width="7.4" height="7.4" fill="#000"/>
<text x="210" y="71.85" class="lg" textLength="20.7" lengthAdjust="spacingAndGlyphs">72 H</text>
</svg>
</body></html>
